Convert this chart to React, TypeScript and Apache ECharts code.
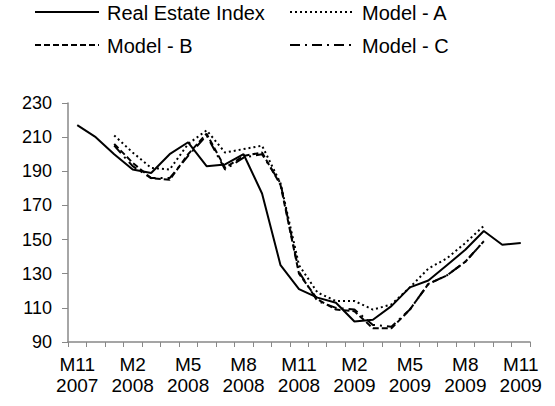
import React, { useEffect, useRef } from "react";
import * as echarts from "echarts";

const categories = [
  "M11\n2007", "M12\n2007", "M1\n2008", "M2\n2008", "M3\n2008", "M4\n2008", "M5\n2008",
  "M6\n2008", "M7\n2008", "M8\n2008", "M9\n2008", "M10\n2008", "M11\n2008", "M12\n2008",
  "M1\n2009", "M2\n2009", "M3\n2009", "M4\n2009", "M5\n2009", "M6\n2009", "M7\n2009",
  "M8\n2009", "M9\n2009", "M10\n2009", "M11\n2009",
];

const seriesNames = ["Real Estate Index", "Model - A", "Model - B", "Model - C"];
const realEstateIndex = [217, 210, 200, 191, 189, 200, 207, 193, 194, 200, 177, 135, 121, 116, 113, 102, 103, 111, 122, 126, 135, 144, 155, 147, 148];
const modelA = [null, null, 211, 201, 192, 191, 206, 214, 201, 203, 205, 183, 135, 119, 114, 114, 109, 112, 122, 133, 139, 148, 158, null, null];
const modelB = [null, null, 206, 195, 186, 185, 200, 212, 192, 199, 201, 182, 130, 115, 109, 108, 98, 98, 109, 124, 129, 137, 149, null, null];
const modelC = [null, null, 205, 193, 186, 186, 199, 211, 191, 198, 200, 183, 131, 114, 110, 109, 100, 99, 109, 124, 129, 137, 149, null, null];

const yMin = 90;
const yMax = 230;
const yStep = 20;

const FONT = "'Liberation Sans', Arial, sans-serif";
const DASHES: any[] = [null, [2, 3], [6, 3], [10, 5, 2, 5]];

export default function App() {
  const ref = useRef<HTMLDivElement>(null);
  useEffect(() => {
    if (!ref.current) return;
    const chart = echarts.init(ref.current, null, { renderer: "svg" });
    const mk = (name: string, data: (number | null)[], dash: any) => ({
      name,
      type: "line",
      data,
      symbol: "none",
      connectNulls: false,
      lineStyle: { color: "#000", width: 2, type: dash || "solid" },
      itemStyle: { color: "#000" },
    });
    const legendPos = [
      { x: 35, y: 12 },
      { x: 290, y: 12 },
      { x: 35, y: 45 },
      { x: 290, y: 45 },
    ];
    const legendGraphics: any[] = [];
    seriesNames.forEach((n, i) => {
      const p = legendPos[i];
      legendGraphics.push({
        type: "line",
        shape: { x1: p.x, y1: p.y, x2: p.x + 64, y2: p.y },
        style: { stroke: "#000", lineWidth: 2, lineDash: DASHES[i] || null },
        silent: true,
      });
      legendGraphics.push({
        type: "text",
        x: p.x + 72,
        y: p.y + 1,
        style: {
          text: n,
          fill: "#000",
          font: `20px ${FONT}`,
          verticalAlign: "middle",
          align: "left",
        },
        silent: true,
      });
    });
    chart.setOption({
      animation: false,
      backgroundColor: "#fff",
      graphic: legendGraphics,
      grid: { left: 68, right: 25, top: 103, bottom: 64, containLabel: false },
      xAxis: {
        type: "category",
        data: categories,
        boundaryGap: true,
        axisLine: { lineStyle: { color: "#888", width: 1.5 } },
        axisTick: { show: true, interval: 0, length: 5, lineStyle: { color: "#888" } },
        axisLabel: {
          interval: 2,
          fontFamily: FONT,
          fontSize: 19,
          color: "#000",
          lineHeight: 21,
          margin: 12,
        },
        splitLine: { show: false },
      },
      yAxis: {
        type: "value",
        min: yMin,
        max: yMax,
        interval: yStep,
        axisLine: { show: true, lineStyle: { color: "#888", width: 1.5 } },
        axisTick: { show: true, length: 6, lineStyle: { color: "#888" } },
        axisLabel: { fontFamily: FONT, fontSize: 18, color: "#000", margin: 16 },
        splitLine: { show: false },
      },
      series: [
        mk(seriesNames[0], realEstateIndex, DASHES[0]),
        mk(seriesNames[1], modelA, DASHES[1]),
        mk(seriesNames[2], modelB, DASHES[2]),
        mk(seriesNames[3], modelC, DASHES[3]),
      ],
    });
    return () => chart.dispose();
  }, []);
  return <div ref={ref} style={{ width: 555, height: 406, position: "absolute", left: 0, top: 0 }} />;
}
